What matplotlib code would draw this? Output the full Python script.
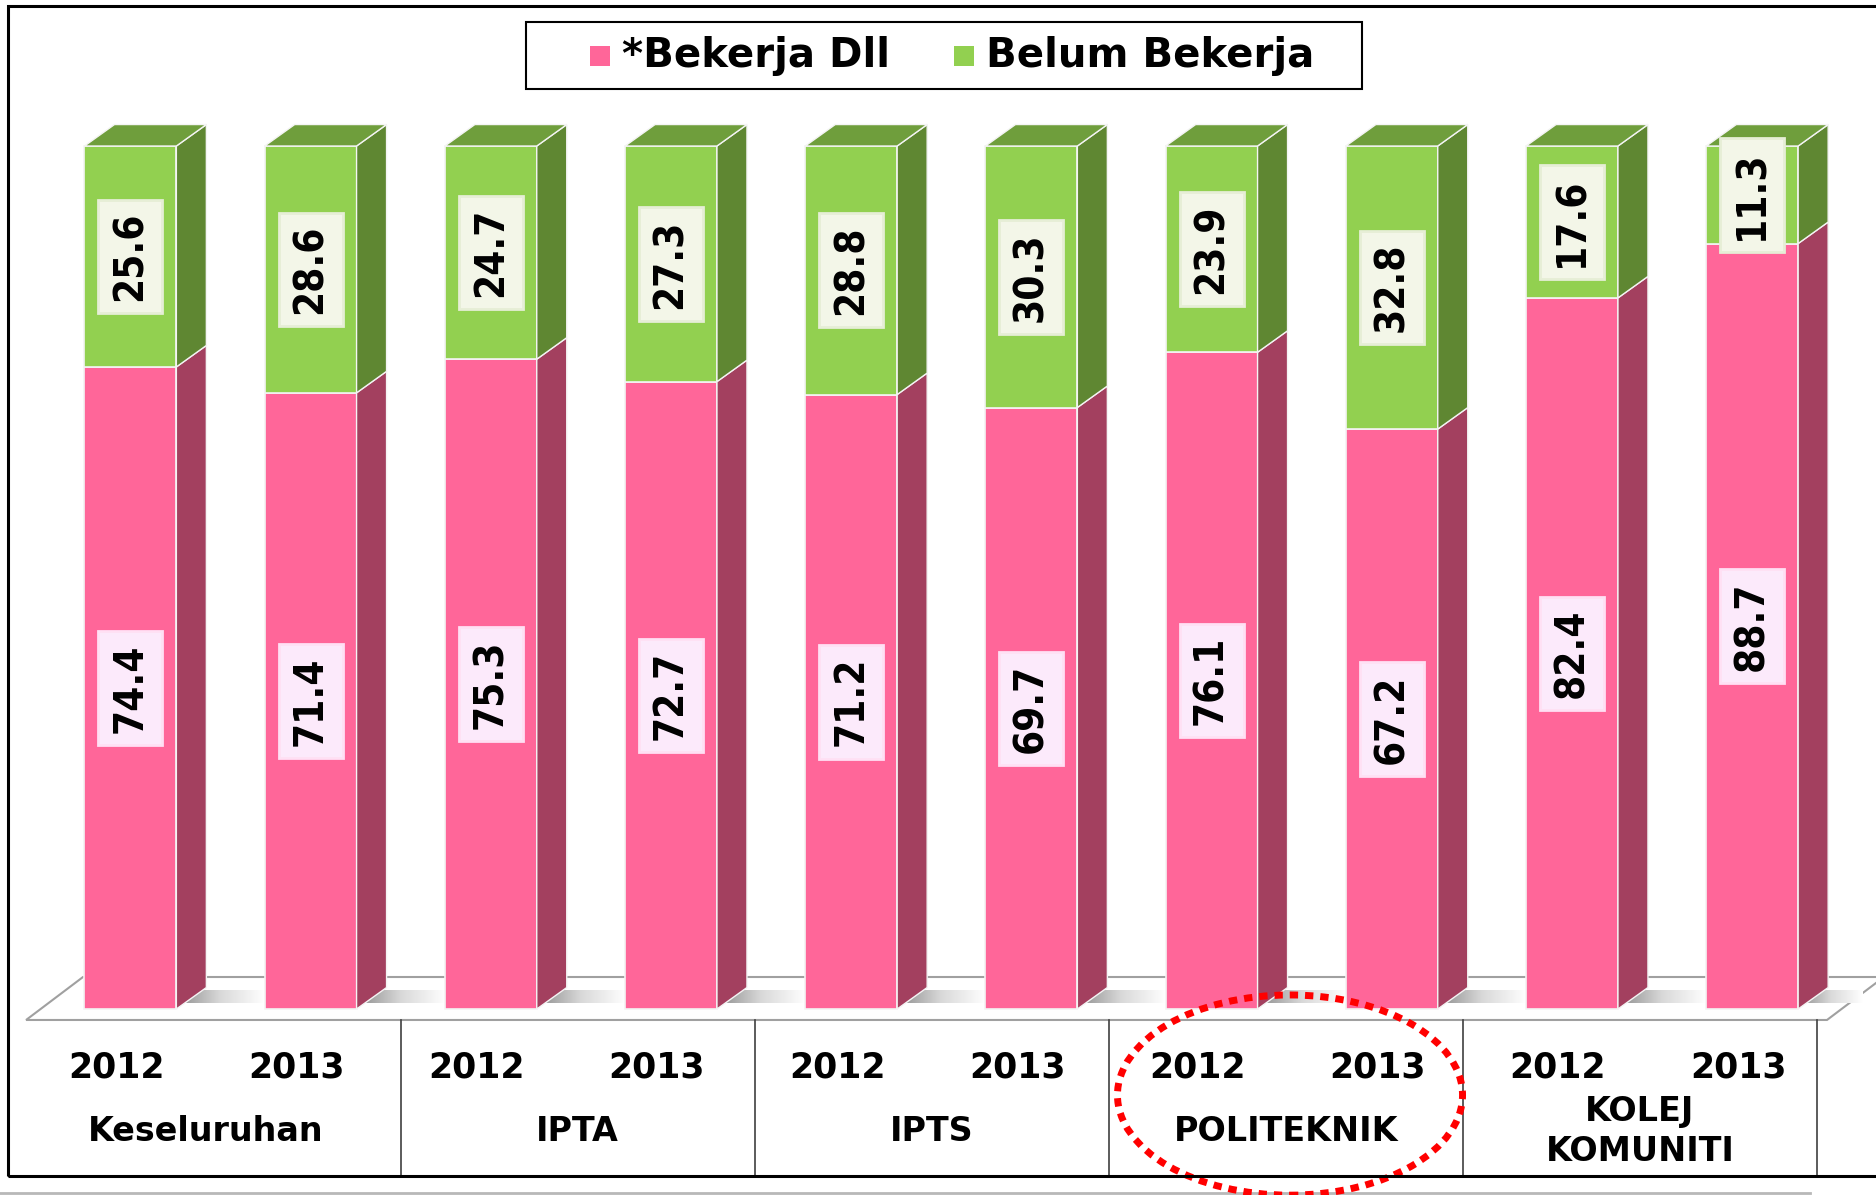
import matplotlib
matplotlib.use('Agg')
import matplotlib.pyplot as plt
import numpy as np
from matplotlib.patches import Polygon, Rectangle, Ellipse
from matplotlib.colors import LinearSegmentedColormap

# ---- data ----
groups = ['Keseluruhan', 'IPTA', 'IPTS', 'POLITEKNIK', 'KOLEJ\nKOMUNITI']
years = ['2012', '2013']
bekerja = [74.4, 71.4, 75.3, 72.7, 71.2, 69.7, 76.1, 67.2, 82.4, 88.7]
belum = [25.6, 28.6, 24.7, 27.3, 28.8, 30.3, 23.9, 32.8, 17.6, 11.3]
series_names = ['*Bekerja Dll', 'Belum Bekerja']
highlight = 'POLITEKNIK'

# ---- style ----
pink, pink_side = '#FF6699', '#A3405F'
green, green_side, green_top = '#92D050', '#5F8732', '#6F9E3C'
W, H = 1876, 1195
w = 0.51          # bar width (category units)
dx, dy = 0.1665, 2.49   # 3d depth offset
floor_front, floor_back = -1.27, 3.71

fig = plt.figure(figsize=(W / 100, H / 100), dpi=100)
ax = fig.add_axes([0, 0, 1, 1])
ax.axis('off')

x = np.arange(len(bekerja))
n = len(x)

# floor
fl = x[0] - 0.579
fr = x[-1] + 0.415
floor = Polygon([(fl, floor_front), (fr, floor_front), (fr + 0.316, floor_back),
                 (fl + 0.316, floor_back)], closed=True, fc='white', ec='#A0A0A0',
                lw=1.5, zorder=1)
ax.add_patch(floor)

# shadow strips on the floor
shade = LinearSegmentedColormap.from_list('shade', ['#8C8C8C', '#D9D9D9', '#FFFFFF'])
grad = np.linspace(0, 1, 200).reshape(1, -1)
for i in range(n):
    xr = x[i] + w / 2
    xn = x[i + 1] - w / 2 if i < n - 1 else fr + 0.2
    ya, yb = 0.7, 2.2
    poly = Polygon([(xr + ya / dy * dx, ya), (xn, ya), (xn, yb), (xr + yb / dy * dx, yb)],
                   closed=True, fc='none', ec='none')
    ax.add_patch(poly)
    im = ax.imshow(grad, cmap=shade, extent=[xr, xn, ya, yb], aspect='auto', zorder=1.5)
    im.set_clip_path(poly)

# bars (front faces)
ax.bar(x, bekerja, width=w, color=pink, edgecolor='#F4F4F4', lw=1.2, zorder=3)
ax.bar(x, belum, width=w, bottom=bekerja, color=green, edgecolor='#F4F4F4', lw=1.2, zorder=3)

# side and top faces
for i in range(n):
    xr = x[i] + w / 2
    b = bekerja[i]
    t = b + belum[i]
    ax.add_patch(Polygon([(xr, 0), (xr + dx, dy), (xr + dx, b + dy), (xr, b)],
                         fc=pink_side, ec='#F4F4F4', lw=1, zorder=3))
    ax.add_patch(Polygon([(xr, b), (xr + dx, b + dy), (xr + dx, t + dy), (xr, t)],
                         fc=green_side, ec='#F4F4F4', lw=1, zorder=3))
    ax.add_patch(Polygon([(xr - w, t), (xr, t), (xr + dx, t + dy), (xr - w + dx, t + dy)],
                         fc=green_top, ec='#F4F4F4', lw=1, zorder=3))

# value labels
lab = dict(rotation=90, ha='center', va='center', fontsize=29, fontweight='bold',
           fontstretch='condensed', zorder=5)
for i in range(n):
    ax.text(x[i], bekerja[i] / 2, f'{bekerja[i]:.1f}', **lab,
            bbox=dict(boxstyle='square,pad=0.3', fc='#FCEAFB', ec='#FFE0F4', lw=2))
    ax.text(x[i], bekerja[i] + belum[i] / 2, f'{belum[i]:.1f}', **lab,
            bbox=dict(boxstyle='square,pad=0.3', fc='#F3F6E8', ec='#E6EED6', lw=2))

# category axis: years and groups
for i in range(n):
    ax.text(x[i] - 0.078, -6.8, years[i % 2], ha='center', va='center',
            fontsize=25, fontweight='bold')
seps = [x[0] - 0.668] + [2 * g + 1.5 - 0.035 * g for g in range(len(groups))]
for g, name in enumerate(groups):
    mid = (seps[g] + seps[g + 1]) / 2
    ax.text(mid, -14.2, name, ha='center', va='center', fontsize=24,
            fontweight='bold', linespacing=1.25)
    ax.plot([seps[g + 1]] * 2, [floor_front, -19.35], color='#404040', lw=1.2, zorder=2)

# highlight ellipse
hg = groups.index(highlight)
ax.add_patch(Ellipse((2 * hg + 0.5 - 0.065, -9.97), 1.915, 23.2, fill=False, ec='#FF0000',
                     lw=5, ls=(0, (1.2, 1.0)), zorder=10, clip_on=False))

# outer frame
ax.add_patch(Rectangle((8 / W, 1 - 1176 / H), 1.2, (1176 - 6) / H, transform=ax.transAxes,
                       fill=False, ec='black', lw=2.2, clip_on=False, zorder=11))
ax.plot([0, 0.965], [1 - 1193 / H] * 2, transform=ax.transAxes, color='#B8B8B8', lw=2)

# legend (drawn as a boxed key, positions in figure pixels)
fig.patches.append(Rectangle((526 / W, 1 - 89 / H), 836 / W, 67 / H, transform=fig.transFigure,
                             fill=False, ec='black', lw=1.5, zorder=12))
for col, name, mx in zip([pink, green], series_names, [590, 954]):
    fig.patches.append(Rectangle((mx / W, 1 - 66 / H), 20 / W, 20 / H,
                                 transform=fig.transFigure, fc=col, ec='none', zorder=12))
    fig.text((mx + 32) / W, 1 - 56 / H, name, ha='left', va='center', fontsize=29,
             fontweight='bold', zorder=12)

ax.set_xlim(-0.7237, 9.687)
ax.set_ylim(-21.55, 116.92)

fig.savefig('out.png', dpi=100)
